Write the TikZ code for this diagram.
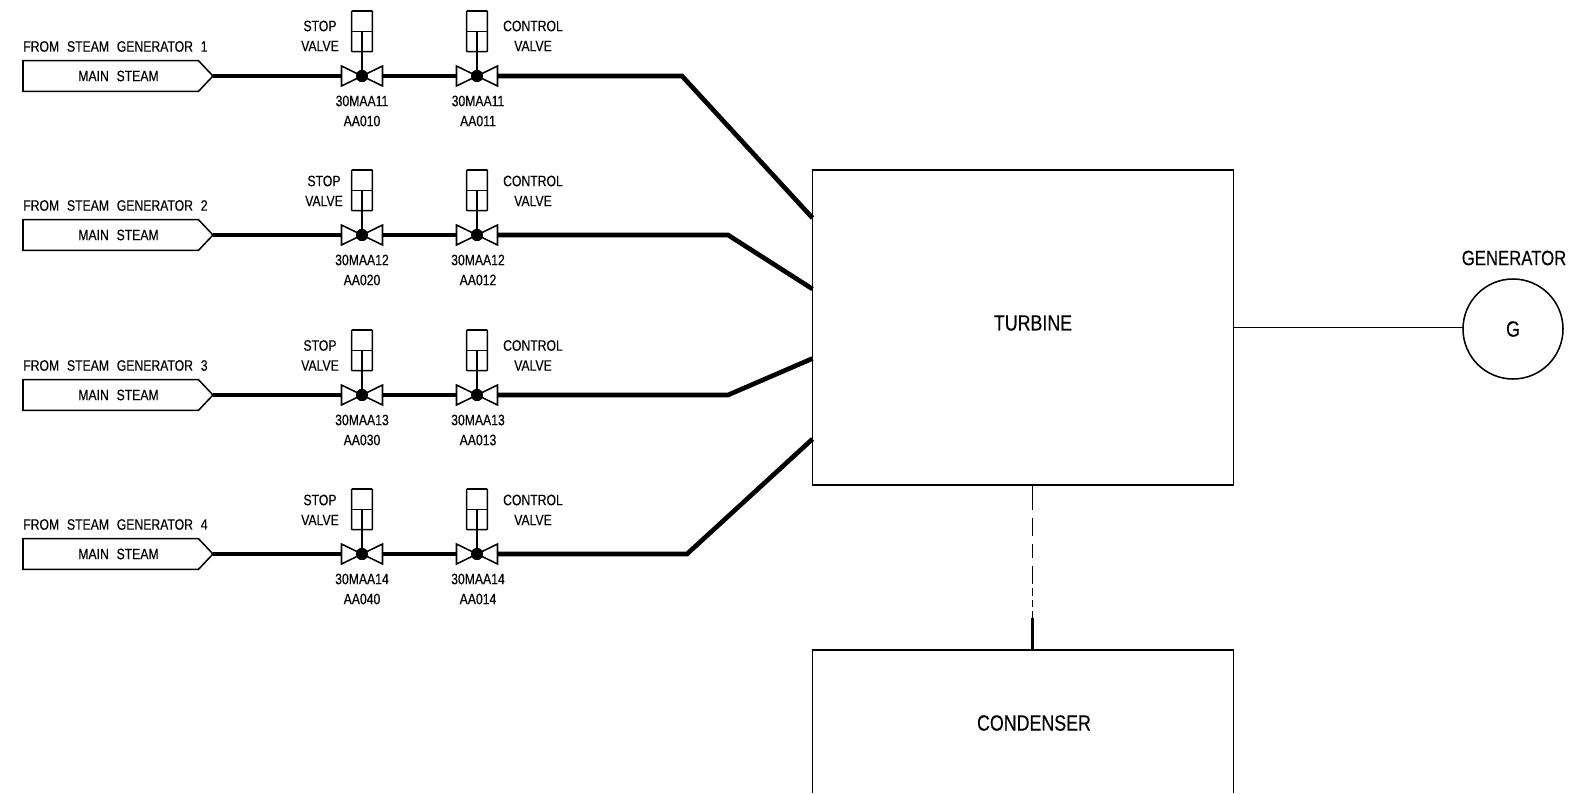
\documentclass[tikz,border=0pt]{standalone}
\usepackage{fontspec}
\usetikzlibrary{calc}
\newfontfamily\cadfont[FakeStretch=0.81,WordSpace=2.3,FakeBold=0.3]{Liberation Sans}
\tikzset{
  thinline/.style={line width=1.15pt,line join=miter},
  pipe/.style={line width=3.5pt,line join=miter},
  small/.style={font=\cadfont\fontsize{11.3}{13}\selectfont,inner sep=0pt},
  big/.style={font=\cadfont\fontsize{16.5}{18}\selectfont,inner sep=0pt},
  bigbox/.style={draw,thinline,inner sep=0pt,outer sep=0pt},
  valvedot/.style={circle,fill=black,inner sep=0pt,outer sep=0pt,minimum size=9pt},
}
\newcommand{\valvepart}[7]{%
  % #1 name, #2 x, #3 pipe y, #4 actuator top y, #5 label x, #6 label y, #7 word
  \node[valvedot] (#1) at (#2,#3) {};
  \coordinate (#1L) at (#2-20.5,#3);
  \coordinate (#1R) at (#2+20.5,#3);
  \draw[thinline,fill=white] (#2-20.5,#3-10) -- (#2-20.5,#3+10) -- (#2,#3) -- cycle;
  \draw[thinline,fill=white] (#2+20.5,#3-10) -- (#2+20.5,#3+10) -- (#2,#3) -- cycle;
  \node[valvedot] at (#1) {};
  \node[draw,thinline,inner sep=0pt,outer sep=0pt,minimum width=15.7pt,minimum height=30.5pt,rounded corners=0.6pt,anchor=north] (#1A) at (#2,#4) {};
  \draw[thinline] (#2-10.5,#4+20.5) -- (#2+10.5,#4+20.5);
  \draw[thinline] (#1) -- (#2,#4+20.5);
  \node[small] (#1w) at (#5,#6) {#7};
  \node[small] (#1v) at (#5,#6+20) {VALVE};
}
\newcommand{\steamrow}[9]{%
  % #1 id, #2 y, #3 act top, #4 from text no, #5 stop-label x, #6 label y, #7 code1, #8 code2, #9 code3
  \node[small,anchor=west] (from#1) at (23,#2-29.5) {FROM STEAM GENERATOR #4};
  \coordinate (tip#1) at (213,#2);
  \draw[thinline] (23,#2-15.3) -- (198.5,#2-15.3) -- (tip#1) -- (198.5,#2+15.3) -- (23,#2+15.3) -- cycle;
  \node[small] (tag#1) at (118.5,#2) {MAIN STEAM};
  \valvepart{s#1}{362}{#2}{#3}{#5}{#6}{STOP}
  \valvepart{c#1}{477}{#2}{#3}{533}{#6}{CONTROL}
  \node[small] (sa#1) at (362,#2+25) {#7};
  \node[small] (sb#1) at (362,#2+45) {#8};
  \node[small] (ca#1) at (478,#2+25) {#7};
  \node[small] (cb#1) at (478,#2+45) {#9};
  \draw[pipe] (tip#1) -- (s#1L);
  \draw[pipe] (s#1R) -- (c#1L);
}
\begin{document}
\begin{tikzpicture}[x=0.75pt,y=-0.75pt]
\useasboundingbox (0,0) rectangle (1575,793);
\node[bigbox,minimum width=315.75pt,minimum height=236.25pt,anchor=north west] (turbine) at (812.5,170) {};
\node[big] (turbinelabel) at (1033,323) {TURBINE};
\node[big] (condenser) at (1034,723) {CONDENSER};
\coordinate (condTop) at (1032.5,650);
\draw[thinline] (812.5,793) -- (812.5,650) -- (1233.5,650) -- (1233.5,793);
\node[draw,thinline,circle,inner sep=0pt,outer sep=0pt,minimum size=75pt,big] (gen) at (1513,329) {G};
\node[big,font=\cadfont\fontsize{15.5}{18}\selectfont] (genlabel) at (1514,258) {GENERATOR};

\steamrow{1}{76}{11}{1}{320}{26}{30MAA11}{AA010}{AA011}
\steamrow{2}{235}{170}{2}{324}{181}{30MAA12}{AA020}{AA012}
\steamrow{3}{395}{330}{3}{320}{345.5}{30MAA13}{AA030}{AA013}
\steamrow{4}{554}{489}{4}{320}{500}{30MAA14}{AA040}{AA014}

\coordinate (e1) at (682,76);   \coordinate (in1) at (812.5,218);
\coordinate (e2) at (728,235);  \coordinate (in2) at (812.5,289);
\coordinate (e3) at (728,395);  \coordinate (in3) at (812.5,358.5);
\coordinate (e4) at (687,554);\coordinate (in4) at (812.5,439);
\draw[pipe] (c1R) -- (e1) -- (in1);
\draw[pipe] (c2R) -- (e2) -- (in2);
\draw[pipe] (c3R) -- (e3) -- (in3);
\draw[pipe] (c4R) -- (e4) -- (in4);

\coordinate (shaft) at (1233.5,327.5);
\draw[thinline] (shaft) -- (gen.west |- shaft);
\coordinate (dashEnd) at (1032.5,618);
\draw[thinline,dash pattern=on 18.5pt off 6pt on 14pt off 6pt on 10pt off 6pt on 14pt off 3pt on 6pt off 3pt on 5pt off 3pt on 6pt] (1032.5,485) -- (dashEnd);
\draw[line width=2pt] (dashEnd) -- (condTop);
\end{tikzpicture}
\end{document}
